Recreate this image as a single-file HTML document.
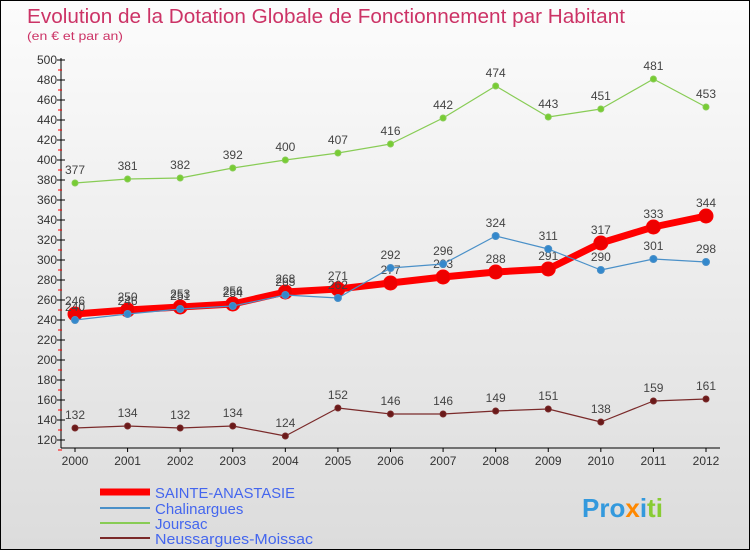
<!DOCTYPE html>
<html><head><meta charset="utf-8"><style>
body{margin:0;width:750px;height:550px;overflow:hidden;font-family:"Liberation Sans",sans-serif}
svg text{font-family:"Liberation Sans",sans-serif}
</style></head><body>
<svg id="c" width="750" height="550">
<defs><linearGradient id="bg" x1="0" y1="0" x2="0" y2="1"><stop offset="0" stop-color="#fcfcfc"/><stop offset="1" stop-color="#dcdcdc"/></linearGradient></defs>
<rect x="0.5" y="0.5" width="749" height="549" fill="url(#bg)" stroke="#000"/>
<text x="27" y="23" font-size="20" fill="#cc3366" textLength="598" lengthAdjust="spacingAndGlyphs">Evolution de la Dotation Globale de Fonctionnement par Habitant</text>
<text x="27" y="40" font-size="12" fill="#cc3366" textLength="96" lengthAdjust="spacingAndGlyphs">(en € et par an)</text>
<g id="axes"></g><g id="series"></g>
<g>
<line x1="100" y1="492" x2="150" y2="492" stroke="#ff0000" stroke-width="7"/>
<text x="155" y="498" font-size="15" fill="#4466ee" textLength="140" lengthAdjust="spacingAndGlyphs">SAINTE-ANASTASIE</text>
<line x1="100" y1="508" x2="150" y2="508" stroke="#4a90c8" stroke-width="2"/>
<text x="155" y="514" font-size="15" fill="#4466ee">Chalinargues</text>
<line x1="100" y1="523" x2="150" y2="523" stroke="#88cc55" stroke-width="2"/>
<text x="155" y="529" font-size="15" fill="#4466ee">Joursac</text>
<line x1="100" y1="538" x2="150" y2="538" stroke="#7a2a2a" stroke-width="2"/>
<text x="155" y="544" font-size="15" fill="#4466ee" textLength="158" lengthAdjust="spacingAndGlyphs">Neussargues-Moissac</text>
</g>
<text x="582" y="517" font-size="26" font-weight="bold"><tspan fill="#3399dd">Pro</tspan><tspan fill="#ff8800">x</tspan><tspan fill="#3399dd">i</tspan><tspan fill="#88cc33">ti</tspan></text>
</svg>
<script>
const years=[2000,2001,2002,2003,2004,2005,2006,2007,2008,2009,2010,2011,2012];
const yTicks=[120,140,160,180,200,220,240,260,280,300,320,340,360,380,400,420,440,460,480,500];
const sainte=[246,250,253,256,268,271,277,283,288,291,317,333,344];
const chalin=[240,246,251,254,265,262,292,296,324,311,290,301,298];
const joursac=[377,381,382,392,400,407,416,442,474,443,451,481,453];
const neuss=[132,134,132,134,124,152,146,146,149,151,138,159,161];
const NS="http://www.w3.org/2000/svg";
const xS=i=>75+i*(706-75)/12;
const yS=v=>440-(v-120);
function mk(t,a,p){const e=document.createElementNS(NS,t);for(const k in a)e.setAttribute(k,a[k]);p.appendChild(e);return e;}
const ax=document.getElementById('axes');
let l=mk('line',{x1:61,y1:58,x2:61,y2:448,stroke:'#000'},ax);


l=mk('line',{x1:61,y1:448,x2:720,y2:448,stroke:'#000'},ax);


yTicks.forEach(v=>{const y=yS(v);
mk('line',{x1:57,y1:y,x2:65,y2:y,stroke:'#000'},ax);
mk('line',{x1:58,y1:y+10,x2:62,y2:y+10,stroke:'#f00'},ax);
const t=mk('text',{x:57,y:y+4,'font-size':12,'text-anchor':'end',fill:'#333'},ax);t.textContent=v;

});
years.forEach((yr,i)=>{const x=xS(i);
mk('line',{x1:x,y1:448,x2:x,y2:452,stroke:'#000'},ax);
const t=mk('text',{x:x,y:465,'font-size':12,'text-anchor':'middle',fill:'#333'},ax);t.textContent=yr;

});
const sg=document.getElementById('series');
function draw(vals,name,col,w,r,dot){
const g=mk('g',{},sg);


mk('polyline',{points:vals.map((v,i)=>xS(i)+','+yS(v)).join(' '),fill:'none',stroke:col,'stroke-width':w,'stroke-linejoin':'round'},g);
vals.forEach((v,i)=>{const c=mk('circle',{cx:xS(i),cy:yS(v),r:r,fill:dot,stroke:col,'stroke-width':1},g);


const t=mk('text',{x:xS(i),y:yS(v)-9,'font-size':12,'text-anchor':'middle',fill:'#444'},g);t.textContent=v;

});}
draw(joursac,'joursac','#88cc55',1.2,3,'#77cc33');
draw(neuss,'neussargues-moissac','#7a2a2a',1.2,3,'#6a1a1a');
draw(sainte,'sainte-anastasie','#ff0000',7,7,'#ee0000');
draw(chalin,'chalinargues','#4a90c8',1.2,3.5,'#3388cc');
</script>
</body></html>
